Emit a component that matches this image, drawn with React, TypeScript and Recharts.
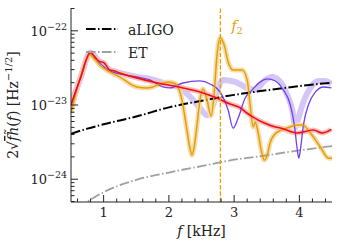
import React from "react";
import { ComposedChart, Line, XAxis, YAxis, ReferenceLine, Legend } from "recharts";

// frequencies in kHz, amplitudes 2*sqrt(f)*|h(f)| in Hz^-1/2
const aligoF = [0.5, 0.75, 1.0, 1.5, 2.0, 2.5, 3.0, 3.5, 4.0, 4.5];
const aligoH = [4.1e-24, 4.8e-24, 5.5e-24, 7.0e-24, 9.3e-24, 1.14e-23, 1.37e-23, 1.58e-23, 1.8e-23, 2.0e-23];

const etF = [0.6, 0.75, 1.0, 1.5, 2.0, 2.5, 3.0, 3.5, 4.0, 4.5];
const etH = [4.2e-25, 5.0e-25, 6.7e-25, 9.8e-25, 1.23e-24, 1.5e-24, 1.83e-24, 2.1e-24, 2.45e-24, 2.8e-24];

// orange: numerical waveform spectrum
const goldF = [0.5, 0.631, 0.723, 0.785, 0.846, 0.938, 1.092, 1.246, 1.508, 1.662, 1.754, 1.862, 1.985, 2.108, 2.2, 2.277, 2.323, 2.354, 2.385, 2.431, 2.477, 2.523, 2.585, 2.646, 2.692, 2.738, 2.785, 2.846, 2.908, 2.985, 3.123, 3.2, 3.246, 3.292, 3.323, 3.369, 3.415, 3.462, 3.508, 3.554, 3.662, 3.815, 3.969, 4.046, 4.169, 4.323, 4.446, 4.5];
const goldH = [7.8e-24, 2.18e-23, 3.81e-23, 4.74e-23, 4.32e-23, 3.47e-23, 2.79e-23, 2.39e-23, 1.75e-23, 1.7e-23, 1.75e-23, 1.92e-23, 2.05e-23, 1.92e-23, 1.17e-23, 4.6e-24, 2.62e-24, 2.11e-24, 2.62e-24, 5.37e-24, 1.17e-23, 1.64e-23, 1.17e-23, 7.1e-24, 1.36e-23, 4.74e-23, 8.04e-23, 6.47e-23, 3.81e-23, 2.97e-23, 2.97e-23, 2.18e-23, 1.0e-23, 5.05e-24, 5.89e-24, 4.19e-24, 2.47e-24, 1.81e-24, 2.11e-24, 3.16e-24, 4.32e-24, 4.89e-24, 5.37e-24, 5.37e-24, 4.19e-24, 2.7e-24, 1.92e-24, 1.92e-24];

// red
const redF = [0.5, 0.646, 0.795, 0.862, 0.938, 1.0, 1.092, 1.17, 1.246, 1.503, 1.81, 2.215, 2.477, 2.738, 2.938, 3.092, 3.195, 3.323, 3.446, 3.63, 3.708, 3.965, 4.215, 4.35, 4.49];
const redH = [1.0e-23, 2.32e-23, 5.09e-23, 4.46e-23, 3.85e-23, 3.75e-23, 2.97e-23, 2.88e-23, 2.7e-23, 2.32e-23, 2.0e-23, 1.7e-23, 1.5e-23, 1.24e-23, 1.03e-23, 9.2e-24, 7.8e-24, 6.6e-24, 5.8e-24, 5.05e-24, 4.9e-24, 4.19e-24, 4.6e-24, 4.2e-24, 4.7e-24];

// purple thin
const violetF = [0.5, 0.646, 0.795, 0.938, 1.092, 1.246, 1.508, 1.708, 1.908, 2.015, 2.215, 2.477, 2.631, 2.785, 2.908, 2.985, 3.062, 3.169, 3.277, 3.4, 3.508, 3.63, 3.754, 3.862, 3.923, 3.969, 3.992, 4.015, 4.062, 4.138, 4.246, 4.369, 4.492];
const violetH = [1.0e-23, 2.32e-23, 5.09e-23, 3.7e-23, 2.88e-23, 2.62e-23, 2.39e-23, 2.18e-23, 1.75e-23, 1.7e-23, 1.98e-23, 2.11e-23, 1.92e-23, 1.5e-23, 8.55e-24, 4.89e-24, 6.67e-24, 1.24e-23, 1.6e-23, 2.05e-23, 2.25e-23, 2.11e-23, 1.6e-23, 1.0e-23, 5.37e-24, 2.47e-24, 1.92e-24, 2.47e-24, 5.37e-24, 1.0e-23, 1.5e-23, 1.75e-23, 1.7e-23];

// lilac thick
const lilacF = [0.5, 0.646, 0.795, 0.938, 1.092, 1.246, 1.508, 1.708, 2.015, 2.169, 2.369, 2.477, 2.585, 2.677, 2.754, 2.831, 3.015, 3.2, 3.323, 3.477, 3.585, 3.708, 3.815, 3.892, 3.938, 3.985, 4.046, 4.169, 4.292, 4.4, 4.492];
const lilacH = [1.0e-23, 2.32e-23, 5.09e-23, 3.81e-23, 2.97e-23, 2.7e-23, 2.39e-23, 2.25e-23, 1.86e-23, 1.7e-23, 1.17e-23, 9.1e-24, 7.3e-24, 1.0e-23, 1.7e-23, 2.18e-23, 2.05e-23, 1.7e-23, 1.6e-23, 2.18e-23, 2.39e-23, 2.05e-23, 1.36e-23, 8.55e-24, 5.05e-24, 6.67e-24, 1.0e-23, 1.7e-23, 2.11e-23, 2.11e-23, 1.92e-23];

const fTicks = [0.6, 0.8, 1, 1.2, 1.4, 1.6, 1.8, 2, 2.2, 2.4, 2.6, 2.8, 3, 3.2, 3.4, 3.6, 3.8, 4, 4.2, 4.4];
const hTicks = [5e-25, 6e-25, 7e-25, 8e-25, 9e-25, 1e-24, 2e-24, 3e-24, 4e-24, 5e-24, 6e-24, 7e-24, 8e-24, 9e-24, 1e-23, 2e-23, 3e-23, 4e-23, 5e-23, 6e-23, 7e-23, 8e-23, 9e-23, 1e-22, 2e-22];
const f2 = 2.79;

const zip = (xs: number[], ys: number[]) => xs.map((f, i) => ({ f, h: ys[i] }));
const aligo = zip(aligoF, aligoH);
const et = zip(etF, etH);
const gold = zip(goldF, goldH);
const red = zip(redF, redH);
const violet = zip(violetF, violetH);
const lilac = zip(lilacF, lilacH);

const FONT = "'DejaVu Serif', serif";
const INK = "#222";
const ORANGE = "#E69F00";
const GREY = "#A0A0A0";
const DASHDOT = "9.6 2.4 1.5 2.4";

const isDecade = (v: number) => {
  const e = Math.round(Math.log10(v));
  return Math.abs(v / Math.pow(10, e) - 1) < 1e-6;
};
const isWhole = (v: number) => Math.abs(v - Math.round(v)) < 1e-6;

const LeftTick = ({ x, y, payload }: any) => {
  const major = isDecade(payload.value);
  const e = Math.round(Math.log10(payload.value));
  return (
    <g>
      <line x1={x} x2={x + (major ? 7 : 3.5)} y1={y} y2={y} stroke={INK} />
      {major && (
        <text x={x - 4} y={y + 5} textAnchor="end" fontSize={13} fontFamily={FONT} fill={INK}>
          10<tspan dy={-6} fontSize={9.5}>{`\u2212${-e}`}</tspan>
        </text>
      )}
    </g>
  );
};
const RightTick = ({ x, y, payload }: any) => {
  const major = isDecade(payload.value);
  return <line x1={x} x2={x - (major ? 7 : 3.5)} y1={y} y2={y} stroke={INK} />;
};
const BottomTick = ({ x, y, payload }: any) => {
  const major = isWhole(payload.value);
  return (
    <g>
      <line x1={x} x2={x} y1={y} y2={y - (major ? 7 : 3.5)} stroke={INK} />
      {major && (
        <text x={x} y={y + 15} textAnchor="middle" fontSize={13} fontFamily={FONT} fill={INK}>
          {payload.value}
        </text>
      )}
    </g>
  );
};
const TopTick = ({ x, y, payload }: any) => {
  const major = isWhole(payload.value);
  return <line x1={x} x2={x} y1={y} y2={y + (major ? 7 : 3.5)} stroke={INK} />;
};

const LegendBox = () => (
  <svg width={110} height={50} style={{ display: "block" }}>
    <line x1={6} x2={38} y1={14} y2={14} stroke="#000" strokeWidth={2} strokeDasharray={DASHDOT} />
    <text x={48} y={20} fontSize={14} fontFamily={FONT} fill={INK}>aLIGO</text>
    <line x1={6} x2={38} y1={37} y2={37} stroke={GREY} strokeWidth={1.8} strokeDasharray={DASHDOT} />
    <text x={48} y={43} fontSize={14} fontFamily={FONT} fill={INK}>ET</text>
  </svg>
);

const YLabel = ({ viewBox }: any) => {
  const cx = 18;
  const cy = viewBox.y + viewBox.height / 2;
  return (
    <text x={cx} y={cy} transform={`rotate(-90 ${cx} ${cy})`} textAnchor="middle" fontSize={14} fontFamily={FONT} fill={INK}>
      2√<tspan fontStyle="italic" style={{ textDecoration: "overline" }}>f</tspan>
      <tspan fontStyle="italic">{"h\u0303"}</tspan>(<tspan fontStyle="italic">f</tspan>) [Hz
      <tspan dy={-6} fontSize={10}>{"\u22121/2"}</tspan>
      <tspan dy={6}>]</tspan>
    </text>
  );
};

const XLabel = ({ viewBox }: any) => (
  <text x={viewBox.x + viewBox.width / 2} y={236} textAnchor="middle" fontSize={14} fontFamily={FONT} fill={INK}>
    <tspan fontStyle="italic">f</tspan> [kHz]
  </text>
);

const F2Label = ({ viewBox }: any) => (
  <text x={viewBox.x + 11} y={viewBox.y + 23} fontSize={14} fontFamily={FONT} fill={ORANGE}>
    <tspan fontStyle="italic">f</tspan>
    <tspan dy={3} fontSize={10}>2</tspan>
  </text>
);

export default function App() {
  return (
    <div style={{ width: 340, height: 249, background: "#fff" }}>
      <style>{"body{margin:0}"}</style>
      <ComposedChart width={340} height={249} margin={{ top: 8, right: 8, left: 0, bottom: 0 }}>
        <XAxis
          dataKey="f"
          type="number"
          domain={[0.5, 4.5]}
          allowDataOverflow
          ticks={fTicks}
          interval={0}
          tickSize={0}
          tickMargin={0}
          tick={<BottomTick />}
          height={47}
          axisLine={{ stroke: INK }}
          label={<XLabel />}
        />
        <XAxis
          xAxisId="top"
          orientation="top"
          dataKey="f"
          type="number"
          domain={[0.5, 4.5]}
          allowDataOverflow
          ticks={fTicks}
          interval={0}
          tickSize={0}
          tickMargin={0}
          tick={<TopTick />}
          height={0}
          axisLine={{ stroke: INK }}
        />
        <YAxis
          dataKey="h"
          type="number"
          scale="log"
          domain={[4.93e-25, 2.03e-22]}
          allowDataOverflow
          ticks={hTicks}
          interval={0}
          tickSize={0}
          tickMargin={0}
          tick={<LeftTick />}
          width={71}
          axisLine={{ stroke: INK }}
          label={<YLabel />}
        />
        <YAxis
          yAxisId="right"
          orientation="right"
          dataKey="h"
          type="number"
          scale="log"
          domain={[4.93e-25, 2.03e-22]}
          allowDataOverflow
          ticks={hTicks}
          interval={0}
          tickSize={0}
          tickMargin={0}
          tick={<RightTick />}
          width={0}
          axisLine={{ stroke: INK }}
        />
        <Legend
          layout="vertical"
          align="center"
          verticalAlign="middle"
          wrapperStyle={{ position: "absolute", left: 80, top: 15, width: 110, height: 50 }}
          content={() => <LegendBox />}
        />

        <Line data={lilac} dataKey="h" type="monotone" stroke="#D4C6F7" strokeWidth={6} dot={false} activeDot={false} isAnimationActive={false} legendType="none" />
        <Line data={gold} dataKey="h" type="monotone" stroke="#F5DDB0" strokeWidth={5} dot={false} activeDot={false} isAnimationActive={false} legendType="none" />
        <Line data={red} dataKey="h" type="monotone" stroke="#F7C0C0" strokeWidth={5} dot={false} activeDot={false} isAnimationActive={false} legendType="none" />
        <Line data={et} dataKey="h" type="monotone" stroke={GREY} strokeWidth={1.8} strokeDasharray={DASHDOT} dot={false} activeDot={false} isAnimationActive={false} />
        <Line data={aligo} dataKey="h" type="monotone" stroke="#000" strokeWidth={2} strokeDasharray={DASHDOT} dot={false} activeDot={false} isAnimationActive={false} />
        <Line data={violet} dataKey="h" type="monotone" stroke="#7440F0" strokeWidth={1.3} dot={false} activeDot={false} isAnimationActive={false} />
        <Line data={gold} dataKey="h" type="monotone" stroke={ORANGE} strokeWidth={1.5} dot={false} activeDot={false} isAnimationActive={false} />
        <Line data={red} dataKey="h" type="monotone" stroke="#F01010" strokeWidth={1.6} dot={false} activeDot={false} isAnimationActive={false} />

        <ReferenceLine x={f2} stroke={ORANGE} strokeWidth={1.3} strokeDasharray="4.4 1.9" label={<F2Label />} />
      </ComposedChart>
    </div>
  );
}
